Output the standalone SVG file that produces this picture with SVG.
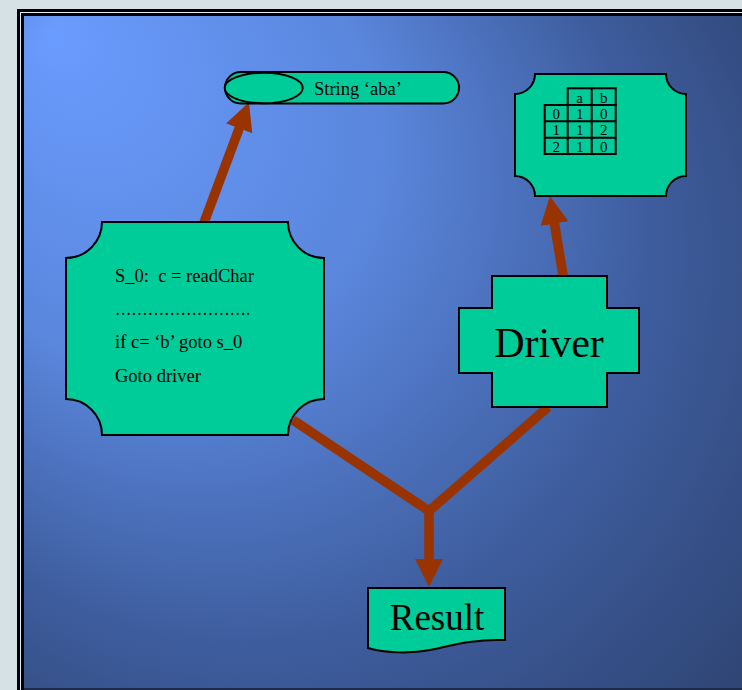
<svg xmlns="http://www.w3.org/2000/svg" width="742" height="690" viewBox="0 0 742 690">
  <defs>
    <radialGradient id="bg" gradientUnits="userSpaceOnUse" cx="320" cy="320" r="560" fx="50" fy="30">
      <stop offset="0" stop-color="#6a9cff"/>
      <stop offset="0.4" stop-color="#5a86dc"/>
      <stop offset="0.72" stop-color="#3e5d9e"/>
      <stop offset="1" stop-color="#2f4574"/>
    </radialGradient>
    <marker id="head" markerUnits="userSpaceOnUse" markerWidth="30" markerHeight="30" refX="1" refY="14" orient="auto">
      <path d="M0,0 L28,14 L0,28 Z" fill="#993300"/>
    </marker>
  </defs>
  <style>
    .node { fill: #00cc99; stroke: #000; stroke-width: 2; }
    .conn { fill: none; stroke: #993300; stroke-width: 9.5; stroke-linejoin: miter; marker-end: url(#head); }
    .txt { font-family: "Liberation Serif", "Times New Roman", serif; fill: #000; }
    .cell { fill: none; stroke: #000; stroke-width: 2; }
    .tc { font-family: "Liberation Serif", "Times New Roman", serif; font-size: 15px; text-anchor: middle; }
  </style>

  <!-- page and slide frame -->
  <rect x="0" y="0" width="742" height="690" fill="#d6e1e6"/>
  <rect x="17" y="9" width="730" height="690" fill="#000"/>
  <rect x="20.5" y="12.5" width="730" height="690" fill="none" stroke="#dce8ff" stroke-width="1"/>
  <rect x="24" y="16" width="720" height="672" fill="url(#bg)"/>
  <rect x="24" y="688" width="720" height="2" fill="#1c2a4c"/>

  <!-- connectors -->
  <g id="connectors">
    <path class="conn" d="M202,228 L239.5,127.5"/>
    <path class="conn" d="M565,287 L554.3,222.6"/>
    <path class="conn" d="M293,420 L429,511 L548,407 M429,511 L429,560"/>
  </g>

  <!-- input tape -->
  <g id="string">
    <rect class="node" x="225" y="72" width="234" height="31.5" rx="15.75"/>
    <ellipse class="node" cx="263.7" cy="88" rx="39" ry="15.3"/>
    <text class="txt" x="314" y="94.5" font-size="18.5">String ‘aba’</text>
  </g>

  <!-- transition table -->
  <g id="table">
    <path class="node" d="M535,74 H666 A20,20 0 0 0 686,94 V176 A20,20 0 0 0 666,196 H535 A20,20 0 0 0 515,176 V94 A20,20 0 0 0 535,74 Z"/>
    <rect class="cell" x="567.7" y="88.3" width="48" height="16.7"/>
    <line class="cell" x1="591.7" y1="88.3" x2="591.7" y2="154"/>
    <rect class="cell" x="544.7" y="105" width="71" height="49"/>
    <line class="cell" x1="567.7" y1="105" x2="567.7" y2="154"/>
    <line class="cell" x1="544.7" y1="121.3" x2="615.7" y2="121.3"/>
    <line class="cell" x1="544.7" y1="137.7" x2="615.7" y2="137.7"/>
    <text class="tc" x="579.7" y="102.5">a</text>
    <text class="tc" x="603.7" y="102.5">b</text>
    <text class="tc" x="556.2" y="118.5">0</text>
    <text class="tc" x="579.7" y="118.5">1</text>
    <text class="tc" x="603.7" y="118.5">0</text>
    <text class="tc" x="556.2" y="135">1</text>
    <text class="tc" x="579.7" y="135">1</text>
    <text class="tc" x="603.7" y="135">2</text>
    <text class="tc" x="556.2" y="151.5">2</text>
    <text class="tc" x="579.7" y="151.5">1</text>
    <text class="tc" x="603.7" y="151.5">0</text>
  </g>

  <!-- generated state code -->
  <g id="code">
    <path class="node" d="M102,222 H288 A36,36 0 0 0 324,258 V399 A36,36 0 0 0 288,435 H102 A36,36 0 0 0 66,399 V258 A36,36 0 0 0 102,222 Z"/>
    <text class="txt" x="115" y="281.5" font-size="18.5" xml:space="preserve">S_0:  c = readChar</text>
    <text class="txt" x="115" y="315" font-size="18.5" textLength="135" lengthAdjust="spacingAndGlyphs">…………………….</text>
    <text class="txt" x="115" y="348" font-size="18.5">if c= ‘b’ goto s_0</text>
    <text class="txt" x="115" y="382" font-size="18.5">Goto driver</text>
  </g>

  <!-- driver -->
  <g id="driver">
    <path class="node" d="M492,276 H607 V308 H639 V373 H607 V407 H492 V373 H459 V308 H492 Z"/>
    <text class="txt" x="549" y="357" font-size="42" text-anchor="middle">Driver</text>
  </g>

  <!-- result document -->
  <g id="result">
    <path class="node" d="M368,588 H505 V640 C470,639 450,646 430,650 C410,654 385,653 368,648 Z"/>
    <text class="txt" x="437" y="630" font-size="37" text-anchor="middle">Result</text>
  </g>
</svg>
